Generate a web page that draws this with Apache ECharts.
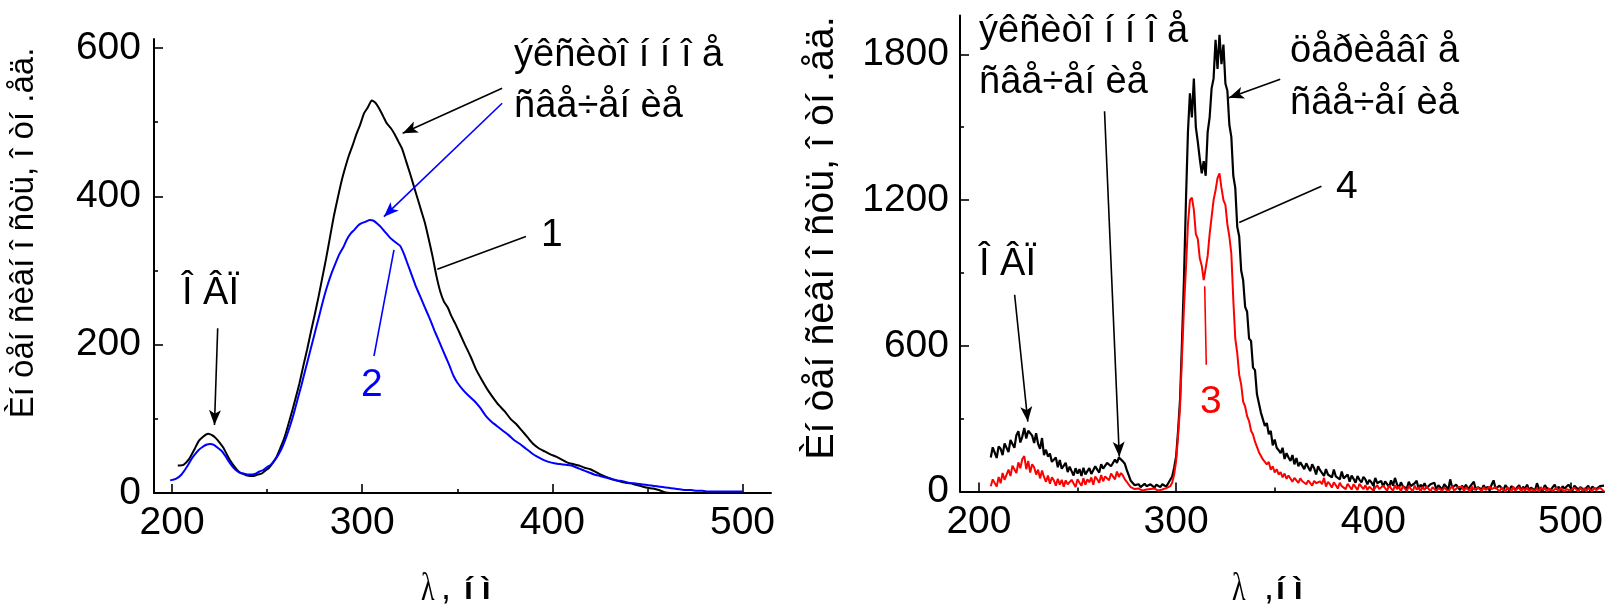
<!DOCTYPE html>
<html>
<head>
<meta charset="utf-8">
<script src="https://cdn.jsdelivr.net/npm/echarts@6/dist/echarts.min.js"></script>
<style>
html, body { margin: 0; padding: 0; background: #fff; }
#chart { width: 1608px; height: 609px; }
</style>
</head>
<body>
<div id="chart"></div>
<script>
// ---- Left panel: spectra 1 (black) and 2 (blue) ----
const wl1 = [203,206,209,212,214,216,218,219,221,223,225,227,229,231,233,235,237,239,241,243,245,247,249,251,253,255,257,259,261,263,265,267,269,271,273,275,277,279,281,283,285,287,289,291,293,295,297,299,301,303,305,306,307,309,311,313,315,317,319,321,323,325,327,329,331,333,335,337,339,341,343,345,347,349,351,354,357,360,363,366,369,372,375,378,381,384,387,390,393,396,399,402,405,408,411,414,417,420,423,426,429,432,435,438,441,444,447,450,453,456,459,462,465];
const curve1 = [37,38,46,60,70,75,79,80,78,74,68,61,51,42,35,29,26,24,23,23,25,26,30,34,41,49,61,74,91,109,128,148,171,193,217,240,264,290,316,344,372,396,419,438,455,469,484,497,512,520,529,528,526,518,508,498,492,484,474,464,448,432,415,398,381,364,342,319,293,272,258,250,238,228,217,200,184,166,152,139,128,118,110,100,93,84,75,66,60,56,52,49,45,41,39,37,34,32,28,24,21,18,16,14,13,11,9,7,6,4,1,0,0];

const wl2 = [199,202,205,208,210,212,214,216,218,220,222,224,226,228,230,232,234,236,238,240,242,244,246,248,250,252,254,256,258,260,262,264,266,268,270,272,274,276,278,280,282,284,286,288,290,292,294,296,298,300,302,304,306,308,310,312,314,316,318,320,322,324,326,328,330,332,334,336,338,340,342,344,346,348,350,353,356,359,362,365,368,371,374,377,380,383,386,389,392,395,398,401,404,407,410,413,416,419,422,425,428,431,434,437,440,443,446,449,452,455,458,461,464,467,470,473,476,479,482,485,488,491,494,497,500];
const curve2 = [17,19,25,36,45,52,58,62,65,66,65,61,57,50,42,35,30,27,26,25,25,26,29,31,35,38,44,52,62,75,90,107,126,145,165,185,205,225,245,265,282,297,310,322,331,342,350,355,361,364,366,368,367,363,358,352,346,341,337,333,322,308,294,280,268,256,244,232,219,207,195,183,171,158,149,139,131,124,115,104,96,90,84,78,71,66,60,54,49,45,42,40,39,38,37,34,31,28,25,23,21,19,17,16,14,13,12,11,10,9,8,7,6,5,4,4,3,3,2,2,2,2,2,2,2];

// ---- Right panel: spectra 3 (red) and 4 (black), 1 nm sampling ----
const wl34 = [
  206,207,208,209,210,211,212,213,214,215, 216,217,218,219,220,221,222,223,224,225,
  226,227,228,229,230,231,232,233,234,235, 236,237,238,239,240,241,242,243,244,245,
  246,247,248,249,250,251,252,253,254,255, 256,257,258,259,260,261,262,263,264,265,
  266,267,268,269,270,271,272,273,274,275, 276,277,278,279,280,281,282,283,284,285,
  286,287,288,289,290,291,292,293,294,295, 296,297,298,299,300,301,302,303,304,305,
  306,307,308,309,310,311,312,313,314,315, 316,317,318,319,320,321,322,323,324,325,
  326,327,328,329,330,331,332,333,334,335, 336,337,338,339,340,341,342,343,344,345,
  346,347,348,349,350,351,352,353,354,355, 356,357,358,359,360,361,362,363,364,365,
  366,367,368,369,370,371,372,373,374,375, 376,377,378,379,380,381,382,383,384,385,
  386,387,388,389,390,391,392,393,394,395, 396,397,398,399,400,401,402,403,404,405,
  406,407,408,409,410,411,412,413,414,415, 416,417,418,419,420,421,422,423,424,425,
  426,427,428,429,430,431,432,433,434,435, 436,437,438,439,440,441,442,443,444,445,
  446,447,448,449,450,451,452,453,454,455, 456,457,458,459,460,461,462,463,464,465,
  466,467,468,469,470,471,472,473,474,475, 476,477,478,479,480,481,482,483,484,485,
  486,487,488,489,490,491,492,493,494,495, 496,497,498,499,500,501,502,503,504,505,
  506,507,508,509,510,511,512,513,514,515, 516,517
];
const curve4 = [
  140,182,160,138,186,176,150,198,204,162, 212,196,180,232,248,202,226,262,218,250,
  256,230,200,240,196,176,220,150,172,144, 156,122,118,140,100,130,94,86,118,80,
  102,84,66,96,74,92,64,98,70,84, 96,72,80,104,90,78,112,94,100,118,
  122,104,96,132,118,140,148,124,114,88, 66,44,38,26,32,30,18,24,32,22,
  20,30,26,16,28,22,18,30,26,20, 34,40,62,98,144,250,380,620,880,1200,
  1480,1640,1540,1700,1500,1440,1370,1310,1360,1300, 1480,1540,1660,1700,1860,1740,1880,1760,1840,1680,
  1650,1510,1460,1300,1250,1090,1050,910,870,760, 740,630,620,510,500,400,405,325,330,270,
  282,236,250,190,214,180,170,158,180,134, 158,140,126,150,112,138,104,120,128,92,
  116,100,84,112,96,70,104,88,90,64, 92,70,78,58,90,62,66,50,82,54,
  58,70,40,66,52,36,64,48,38,60, 50,30,48,38,24,56,34,26,44,20,
  42,30,18,46,24,56,30,14,38,22, 30,12,40,22,16,34,44,10,28,18,
  34,14,8,30,22,36,6,26,18,8, 30,20,6,50,16,10,28,20,6,24,
  14,28,8,20,30,40,6,18,24,8, 26,10,20,4,28,46,12,6,24,16,
  6,26,18,4,22,30,8,14,26,4, 20,10,28,6,16,24,4,34,12,20,
  4,26,14,22,6,18,28,8,20,4, 22,12,6,28,16,4,24,30,8,18,
  26,6,14,24,4,20,28,10,6,22, 14,24
];
const curve3 = [
  22,50,42,20,60,34,76,48,56,90, 64,106,112,76,120,96,134,146,92,126,
  78,112,100,70,90,54,86,60,40,66, 32,58,46,24,52,28,48,20,46,30,
  22,48,40,18,50,36,24,54,28,50, 38,58,28,62,50,36,68,42,62,70,
  46,74,66,50,82,60,76,66,50,40, 28,18,14,10,6,12,10,4,11,8,
  3,10,6,12,4,4,11,8,5,14, 14,22,36,70,125,230,350,560,760,920,
  1100,1200,1210,1160,1060,1040,960,930,870,870, 970,1060,1130,1200,1240,1290,1310,1250,1200,1180,
  1100,1050,980,790,630,570,480,440,370,350, 310,290,250,235,205,200,162,170,132,138,
  112,122,90,104,78,92,70,80,58,74, 52,66,58,40,56,46,36,54,42,48,
  30,46,40,24,44,34,26,42,30,56, 20,40,30,16,38,26,12,36,22,30,
  10,32,24,8,30,18,6,32,20,10, 26,6,20,28,4,16,26,10,2,24,
  14,4,24,18,2,26,10,20,0,22, 12,2,22,16,0,24,8,18,0,20,
  6,22,12,0,18,22,2,14,20,4, 16,20,0,12,22,4,0,18,10,20,
  2,18,12,0,20,8,0,16,14,2, 18,6,0,20,10,2,18,12,0,16,
  8,0,18,14,0,20,4,12,18,0, 14,4,18,0,10,16,2,14,0,18,
  6,16,0,12,18,2,10,16,0,14, 16,0,10,18,4,0,16,12,0,16,
  4,14,0,16,10,0,16,6,2,16, 8,0
];

// ---- Tick values ----
const xMajor = [200, 300, 400, 500];
const xMinor = [250, 350, 450];
const yLeftMajor = [0, 200, 400, 600];
const yLeftMinor = [100, 300, 500];
const yRightMajor = [0, 600, 1200, 1800];
const yRightMinor = [300, 900, 1500];

// ---- Annotation pointers, [from, to] in data units ----
const leftBlackArrows = [[[373.6, 545.6], [321.3, 485]], [[224, 222], [222.3, 91.7]]];
const leftBlueArrows = [[[373.6, 525.4], [311.4, 372.5]]];
const leftBlackLeaders = [[[386.1, 345.6], [339.5, 301.6]]];
const leftBlueLeaders = [[[306.2, 184.7], [316.7, 327.6]]];
const rightBlackArrows = [[[218.1, 810], [224.8, 288]], [[263.7, 1566], [271.2, 143.5]], [[352.8, 1697], [326.8, 1621]]];
const rightBlackLeaders = [[[373.7, 1257], [332.0, 1108]]];
const rightRedLeaders = [[[315.3, 522], [314.5, 845]]];

const SANS = "'Liberation Sans', Arial, sans-serif";
const SERIF = "'Liberation Serif', 'Times New Roman', serif";

function pairs(xs, ys) { return xs.map((x, i) => [x, ys[i]]); }

function pointers(list, color, arrow) {
  return {
    silent: true,
    animation: false,
    symbolSize: [9, 15],
    label: { show: false },
    emphasis: { disabled: true },
    lineStyle: { color: color, width: 1.6, type: 'solid' },
    data: list.map(seg => [
      { coord: seg[0], symbol: 'none' },
      { coord: seg[1], symbol: arrow ? 'arrow' : 'none' }
    ])
  };
}

const plain = v => String(v);

function xAxisMain(grid, min, max) {
  return {
    type: 'value', gridIndex: grid, min: min, max: max, position: 'bottom',
    axisLine: { show: true, onZero: false, lineStyle: { color: '#000', width: 2 } },
    axisTick: { show: true, inside: true, length: 9, customValues: xMajor, lineStyle: { color: '#000', width: 1.6 } },
    axisLabel: { show: true, customValues: xMajor, formatter: plain, color: '#000', fontSize: 39, fontFamily: SANS, margin: 11 },
    splitLine: { show: false }
  };
}
function xAxisMinor(grid, min, max) {
  return {
    type: 'value', gridIndex: grid, min: min, max: max, position: 'bottom', offset: 0,
    axisLine: { show: false },
    axisTick: { show: true, inside: true, length: 4, customValues: xMinor, lineStyle: { color: '#000', width: 1.6 } },
    axisLabel: { show: false },
    splitLine: { show: false }
  };
}
function yAxisMain(grid, max, major, margin) {
  return {
    type: 'value', gridIndex: grid, min: 0, max: max, position: 'left',
    axisLine: { show: true, onZero: false, lineStyle: { color: '#000', width: 2 } },
    axisTick: { show: true, inside: true, length: 9, customValues: major, lineStyle: { color: '#000', width: 1.6 } },
    axisLabel: { show: true, customValues: major, formatter: plain, color: '#000', fontSize: 39, fontFamily: SANS, margin: margin },
    splitLine: { show: false }
  };
}
function yAxisMinor(grid, max, minor) {
  return {
    type: 'value', gridIndex: grid, min: 0, max: max, position: 'left', offset: 0,
    axisLine: { show: false },
    axisTick: { show: true, inside: true, length: 4, customValues: minor, lineStyle: { color: '#000', width: 1.6 } },
    axisLabel: { show: false },
    splitLine: { show: false }
  };
}

function text(str, x, y, font, color, sx) {
  return {
    type: 'text', x: x, y: y, scaleX: sx || 1, silent: true,
    style: { text: str, fill: color || '#000', font: font, align: 'left', verticalAlign: 'middle' }
  };
}
function vtext(str, x, y, size) {
  return {
    type: 'text', x: x, y: y, rotation: Math.PI / 2, silent: true,
    style: { text: str, fill: '#000', font: size + 'px ' + SANS, align: 'center', verticalAlign: 'middle' }
  };
}
const F38 = '38px ' + SANS;
const F39 = '39px ' + SANS;

const chart = echarts.init(document.getElementById('chart'), null, { renderer: 'canvas' });

chart.setOption({
  animation: false,
  backgroundColor: '#fff',
  grid: [
    { left: 154, top: 39, width: 617, height: 454 },
    { left: 960, top: 15.5, width: 644, height: 476 }
  ],
  xAxis: [
    xAxisMain(0, 190.5, 515),
    xAxisMain(1, 190.4, 517),
    xAxisMinor(0, 190.5, 515),
    xAxisMinor(1, 190.4, 517)
  ],
  yAxis: [
    yAxisMain(0, 612, yLeftMajor, 13),
    yAxisMain(1, 1960, yRightMajor, 11),
    yAxisMinor(0, 612, yLeftMinor),
    yAxisMinor(1, 1960, yRightMinor)
  ],
  series: [
    {
      type: 'line', xAxisIndex: 0, yAxisIndex: 0, data: pairs(wl1, curve1),
      showSymbol: false, smooth: 0.2, lineStyle: { color: '#000', width: 2 }, z: 2,
      markLine: pointers(leftBlackArrows, '#000', true)
    },
    {
      type: 'line', xAxisIndex: 0, yAxisIndex: 0, data: pairs(wl2, curve2),
      showSymbol: false, smooth: 0.2, lineStyle: { color: '#0000ff', width: 2 }, z: 3,
      markLine: pointers(leftBlueArrows, '#0000ff', true)
    },
    {
      type: 'line', xAxisIndex: 0, yAxisIndex: 0, data: [], showSymbol: false,
      markLine: pointers(leftBlackLeaders, '#000', false)
    },
    {
      type: 'line', xAxisIndex: 0, yAxisIndex: 0, data: [], showSymbol: false,
      markLine: pointers(leftBlueLeaders, '#0000ff', false)
    },
    {
      type: 'line', xAxisIndex: 1, yAxisIndex: 1, data: pairs(wl34, curve4),
      showSymbol: false, lineStyle: { color: '#000', width: 2.2 }, z: 2,
      markLine: pointers(rightBlackArrows, '#000', true)
    },
    {
      type: 'line', xAxisIndex: 1, yAxisIndex: 1, data: pairs(wl34, curve3),
      showSymbol: false, lineStyle: { color: '#ff0000', width: 2 }, z: 3
    },
    {
      type: 'line', xAxisIndex: 1, yAxisIndex: 1, data: [], showSymbol: false,
      markLine: pointers(rightBlackLeaders, '#000', false)
    },
    {
      type: 'line', xAxisIndex: 1, yAxisIndex: 1, data: [], showSymbol: false,
      markLine: pointers(rightRedLeaders, '#ff0000', false)
    }
  ],
  graphic: [
    // axis names
    vtext('Èí òåí ñèâí î ñòü, î òí .åä.', 24, 233, 33),
    vtext('Èí òåí ñèâí î ñòü, î òí .åä.', 822, 238, 39.5),
    text('λ', 421, 589, '40px ' + SERIF, '#000', 0.7),
    text(',', 441, 589, '36px ' + SANS),
    text('í ì', 464, 590, 'bold 32px ' + SANS),
    text('λ', 1232, 589, '40px ' + SERIF, '#000', 0.7),
    text(',', 1264, 589, '36px ' + SANS),
    text('í ì', 1276, 590, 'bold 32px ' + SANS),
    // left panel notes
    text('ýêñèòî í í î å', 514, 56, F38),
    text('ñâå÷åí èå', 514, 107, F38),
    text('1', 541, 235, F39),
    text('2', 361, 385, F39, '#0000ff'),
    text('Î ÂÏ', 182, 294, F38),
    // right panel notes
    text('ýêñèòî í í î å', 979, 32, F38),
    text('ñâå÷åí èå', 979, 83, F38),
    text('öåðèåâî å', 1290, 52, F38),
    text('ñâå÷åí èå', 1290, 104, F38),
    text('4', 1336, 187, F39),
    text('3', 1200, 402, F39, '#ff0000'),
    text('Î ÂÏ', 979, 265, F38)
  ]
});
</script>
</body>
</html>
